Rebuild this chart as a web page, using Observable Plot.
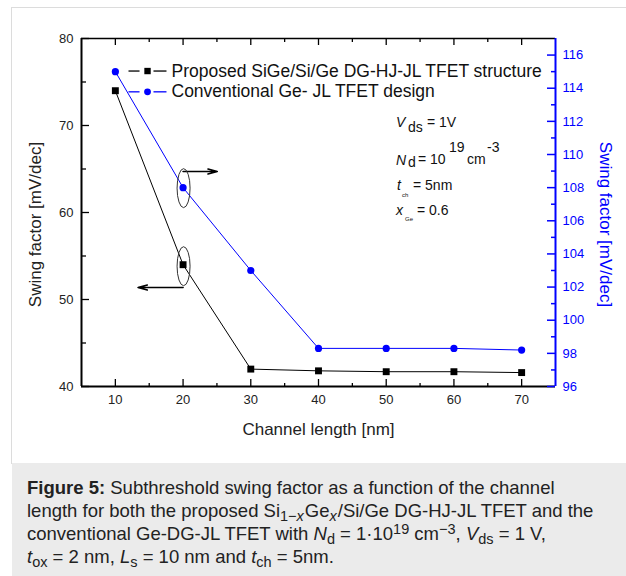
<!DOCTYPE html>
<html>
<head>
<meta charset="utf-8">
<script src="https://cdn.jsdelivr.net/npm/d3@7"></script>
<script src="https://cdn.jsdelivr.net/npm/@observablehq/plot@0.6"></script>
<style>
  html, body { margin: 0; padding: 0; background: #fff; }
  #wrap { position: relative; width: 626px; height: 576px; overflow: hidden; font-family: "Liberation Sans", Arial, sans-serif; }
  #frame { position: absolute; left: 11px; top: 7px; width: 620px; height: 456px; border-left: 1px solid #dcdcdc; border-top: 1px solid #dcdcdc; }
  #chart { position: absolute; left: 0; top: 0; }
  #caption { position: absolute; left: 12px; top: 463px; width: 614px; height: 113px; background: #ebebeb; color: #222;
    font-size: 18.5px; line-height: 23px; padding: 13px 0 0 15px; box-sizing: border-box; white-space: nowrap; }
  #caption sub, #caption sup { font-size: 14.5px; line-height: 0; }
  #caption sub { vertical-align: -4px; }
  #caption sup { vertical-align: 6px; }
  #caption sub i { margin-right: 1px; }
</style>
</head>
<body>
<div id="wrap">
  <div id="frame"></div>
  <div id="chart"></div>
  <div id="caption"><b>Figure 5:</b> Subthreshold swing factor as a function of the channel<br>length for both the proposed Si<sub>1−<i>x</i></sub>Ge<sub><i>x</i></sub>/Si/Ge DG-HJ-JL TFET and the<br>conventional Ge-DG-JL TFET with <i>N</i><sub>d</sub> = 1·10<sup>19</sup> cm<sup>−3</sup>, <i>V</i><sub>ds</sub> = 1 V,<br><i>t</i><sub>ox</sub> = 2 nm, <i>L</i><sub>s</sub> = 10 nm and <i>t</i><sub>ch</sub> = 5nm.</div>
</div>
<script>
// ---- data ----
const channelLengths = [10, 20, 30, 40, 50, 60, 70];
const proposedSwing = [74, 54, 42, 41.8, 41.7, 41.7, 41.6];
const conventionalSwing = [115, 108, 103, 98.3, 98.3, 98.3, 98.2];
const seriesNames = ["Proposed SiGe/Si/Ge DG-HJ-JL TFET structure", "Conventional Ge- JL TFET design"];
const xTicks = [10, 20, 30, 40, 50, 60, 70];
const xMinorTicks = [15, 25, 35, 45, 55, 65];
const leftTicks = [40, 50, 60, 70, 80];
const leftMinorTicks = [45, 55, 65, 75];
const rightTicks = [96, 98, 100, 102, 104, 106, 108, 110, 112, 114, 116];
const rightMinorTicks = [97, 99, 101, 103, 105, 107, 109, 111, 113, 115];
const xTitle = "Channel length [nm]";
const yTitle = "Swing factor [mV/dec]";

// ---- layout ----
const blue = "#0000ff";
const W = 626, H = 463, mL = 81, mR = 71, mT = 38, mB = 77;
const pw = W - mL - mR, ph = H - mT - mB;
const leftDomain = [40, 80], rightDomain = [96, 117];
const toLeft = v => leftDomain[0] + (v - rightDomain[0]) * (leftDomain[1] - leftDomain[0]) / (rightDomain[1] - rightDomain[0]);
const fromLeft = v => rightDomain[0] + (v - leftDomain[0]) * (rightDomain[1] - rightDomain[0]) / (leftDomain[1] - leftDomain[0]);

const rows = channelLengths.map((L, i) => ({L, p: proposedSwing[i], c: toLeft(conventionalSwing[i])}));

// legend / annotation anchors in data units
const legendRowY = [76.26, 73.87];
const legendDash = [[11.94, 13.57], [15.63, 17.55]];
const legendMarkX = 14.75, legendTextX = 18.29;

const marks = [
  // frame
  Plot.ruleX([5], {stroke: "#000", strokeWidth: 2}),
  Plot.ruleY([40], {stroke: "#000", strokeWidth: 2}),
  Plot.ruleY([80], {stroke: "#000", strokeWidth: 1.5}),
  Plot.ruleX([75], {stroke: blue, strokeWidth: 2}),
  // inward ticks
  Plot.tickY(leftTicks, {y: d => d, insetRight: pw - 8, stroke: "#000", strokeWidth: 1.3}),
  Plot.tickY(leftMinorTicks, {y: d => d, insetRight: pw - 5, stroke: "#000", strokeWidth: 1.3}),
  Plot.tickY(rightTicks.map(toLeft), {y: d => d, insetLeft: pw - 8, stroke: blue, strokeWidth: 1.5}),
  Plot.tickY(rightMinorTicks.map(toLeft), {y: d => d, insetLeft: pw - 4, stroke: blue, strokeWidth: 1.5}),
  Plot.tickX(xTicks, {x: d => d, insetTop: ph - 7, stroke: "#000", strokeWidth: 1.3}),
  Plot.tickX(xMinorTicks, {x: d => d, insetTop: ph - 3, stroke: "#000", strokeWidth: 1.3}),
  Plot.tickX(xTicks, {x: d => d, insetBottom: ph - 7, stroke: "#000", strokeWidth: 1.3}),
  Plot.tickX(xMinorTicks, {x: d => d, insetBottom: ph - 4, stroke: "#000", strokeWidth: 1.3}),
  // axis labels
  Plot.axisY({ticks: leftTicks, anchor: "left", tickSize: 0, tickPadding: 8, label: null, fontSize: 13, color: "#222"}),
  Plot.axisY({ticks: rightTicks.map(toLeft), anchor: "right", tickSize: 0, tickPadding: 7, label: null, fontSize: 13,
    tickFormat: d => String(Math.round(fromLeft(d))), color: blue}),
  Plot.axisX({ticks: xTicks, anchor: "bottom", tickSize: 0, tickPadding: 8, label: null, fontSize: 13, color: "#222"}),
  Plot.text([yTitle], {frameAnchor: "left", dx: -46, dy: 12, rotate: -90, textAnchor: "middle", lineAnchor: "middle", fontSize: 17, fill: "#222"}),
  Plot.text([yTitle], {frameAnchor: "right", dx: 50, dy: 12, rotate: 90, textAnchor: "middle", lineAnchor: "middle", fontSize: 17, fill: blue}),
  Plot.text([xTitle], {frameAnchor: "bottom", dy: 43, textAnchor: "middle", lineAnchor: "middle", fontSize: 17, fill: "#222"}),
  // data
  Plot.line(rows, {x: "L", y: "p", stroke: "#000", strokeWidth: 1}),
  Plot.line(rows, {x: "L", y: "c", stroke: blue, strokeWidth: 1}),
  Plot.dot(rows, {x: "L", y: "p", symbol: "square", r: 3.9, fill: "#000", stroke: "none"}),
  Plot.dot(rows, {x: "L", y: "c", symbol: "circle", r: 3.6, fill: blue, stroke: "none"}),
  // legend
  Plot.link([0, 1, 2, 3], {
    x1: i => legendDash[i % 2][0], x2: i => legendDash[i % 2][1],
    y1: i => legendRowY[i < 2 ? 0 : 1], y2: i => legendRowY[i < 2 ? 0 : 1],
    stroke: i => i < 2 ? "#000" : blue, strokeWidth: 1.3
  }),
  Plot.dot([0], {x: () => legendMarkX, y: () => legendRowY[0], symbol: "square", r: 3.6, fill: "#000", stroke: "none"}),
  Plot.dot([1], {x: () => legendMarkX, y: () => legendRowY[1], symbol: "circle", r: 3.4, fill: blue, stroke: "none"}),
  Plot.text(seriesNames, {x: () => legendTextX, y: (d, i) => legendRowY[i], textAnchor: "start", fontSize: 17.5, fill: "#111"}),
  // pointer arrows
  Plot.arrow([0], {x1: () => 20, x2: () => 25.05, y1: () => 64.71, y2: () => 64.71, stroke: "#000", strokeWidth: 1.6, headLength: 9, headAngle: 30}),
  Plot.arrow([0], {x1: () => 20, x2: () => 13.35, y1: () => 51.38, y2: () => 51.38, stroke: "#000", strokeWidth: 1.6, headLength: 9, headAngle: 30})
];

const plot = Plot.plot({
  width: W, height: H,
  marginLeft: mL, marginRight: mR, marginTop: mT, marginBottom: mB,
  x: {domain: [5, 75]},
  y: {domain: leftDomain},
  style: {fontFamily: "'Liberation Sans', Arial, sans-serif", fontSize: "13px", color: "#222", background: "transparent", overflow: "visible"},
  marks
});
document.getElementById("chart").appendChild(plot);

// ellipses and parameter annotations, placed through the plot's scales
const sx = plot.scale("x"), sy = plot.scale("y");
const svg = d3.select(plot);
const g = svg.append("g").attr("text-anchor", "start");
[[20, toLeft(conventionalSwing[1]), 1], [20, proposedSwing[1], 2]].forEach(([x, y, off]) => {
  g.append("ellipse")
    .attr("cx", sx.apply(x) + 1).attr("cy", sy.apply(y) + off)
    .attr("rx", 6.5).attr("ry", 19.5)
    .attr("fill", "none").attr("stroke", "#333").attr("stroke-width", 1);
});

const annX = 51.52;
const annRows = [
  {y: 69.8, parts: [["V", 0, 0, 14, true], ["ds", 12, 5, 14, false], ["= 1V", 31, 0, 14, false]]},
  {y: 65.4, parts: [["N", 0, 0, 14, true], ["d", 12, 2, 14, false], ["= 10", 22, -1.5, 14, false], ["19", 53, -13, 14, false], ["cm", 71, -1.5, 14, false], ["-3", 91, -13, 14, false]]},
  {y: 62.53, parts: [["t", 1, 0, 14, true], ["ch", 6, 7, 6, false], ["= 5nm", 17, 0, 14, false]]},
  {y: 59.66, parts: [["x", 0, 0, 14, true], ["Ge", 9, 6, 6, false], ["= 0.6", 21, 0, 14, false]]}
];
annRows.forEach(row => {
  const x0 = sx.apply(annX), y0 = sy.apply(row.y);
  row.parts.forEach(([t, dx, dy, fs, it]) => {
    g.append("text").attr("x", x0 + dx).attr("y", y0 + dy)
      .attr("text-anchor", "start")
      .attr("font-size", fs).attr("font-style", it ? "italic" : null)
      .attr("fill", "#111").text(t);
  });
});
</script>
</body>
</html>
